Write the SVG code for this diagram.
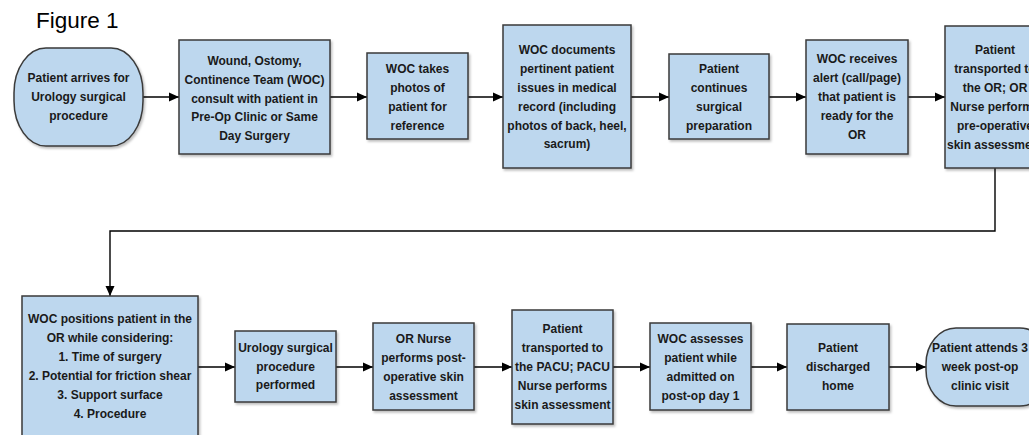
<svg xmlns="http://www.w3.org/2000/svg" width="1029" height="435" viewBox="0 0 1029 435">
  <defs>
    <filter id="sh" x="-10%" y="-10%" width="130%" height="130%">
      <feDropShadow dx="1.5" dy="2" stdDeviation="1.2" flood-color="#000" flood-opacity="0.25"/>
    </filter>
    <marker id="ah" viewBox="0 0 10 10" refX="10" refY="5" markerWidth="10" markerHeight="10" markerUnits="userSpaceOnUse" orient="auto">
      <path d="M0,0.5 L10,5 L0,9.5 Z" fill="#000"/>
    </marker>
  </defs>
  <style>
    .box { fill: #BDD7EE; stroke: #3a3a3a; stroke-width: 1.5; filter: url(#sh); }
    .t { font-family: "Liberation Sans", Arial, sans-serif; font-weight: bold; font-size: 12px; fill: #1a1a1a; text-anchor: middle; }
    .c { fill: none; stroke: #000; stroke-width: 1.4; marker-end: url(#ah); }
    .title { font-family: "Liberation Sans", Arial, sans-serif; font-size: 22.5px; fill: #000; }
  </style>
  <rect width="1029" height="435" fill="#fff"/>
  <text class="title" x="36" y="28">Figure 1</text>

  <g id="connectors">
    <path class="c" d="M143,97 H179"/>
    <path class="c" d="M330,97 H367"/>
    <path class="c" d="M468,97 H503"/>
    <path class="c" d="M631,97 H669"/>
    <path class="c" d="M769,97 H806"/>
    <path class="c" d="M908,97 H945"/>
    <path class="c" d="M995,168 V231 H110 V296"/>
    <path class="c" d="M198,367 H235"/>
    <path class="c" d="M336,367 H373"/>
    <path class="c" d="M474,367 H512"/>
    <path class="c" d="M613,367 H650"/>
    <path class="c" d="M751,367 H787"/>
    <path class="c" d="M889,367 H926"/>
  </g>

  <g id="n1">
    <rect class="box" x="14" y="48" width="129" height="98" rx="32" ry="45"/>
    <text class="t" x="78.5"><tspan x="78.5" y="82">Patient arrives for</tspan><tspan x="78.5" y="101">Urology surgical</tspan><tspan x="78.5" y="120">procedure</tspan></text>
  </g>
  <g id="n2">
    <rect class="box" x="179" y="40" width="151" height="114"/>
    <text class="t"><tspan x="254.5" y="65">Wound, Ostomy,</tspan><tspan x="254.5" y="84">Continence Team (WOC)</tspan><tspan x="254.5" y="103">consult with patient in</tspan><tspan x="254.5" y="121">Pre-Op Clinic or Same</tspan><tspan x="254.5" y="140">Day Surgery</tspan></text>
  </g>
  <g id="n3">
    <rect class="box" x="367" y="53" width="101" height="86"/>
    <text class="t"><tspan x="417.5" y="73">WOC takes</tspan><tspan x="417.5" y="92">photos of</tspan><tspan x="417.5" y="111">patient for</tspan><tspan x="417.5" y="130">reference</tspan></text>
  </g>
  <g id="n4">
    <rect class="box" x="503" y="25" width="128" height="143"/>
    <text class="t"><tspan x="567" y="54">WOC documents</tspan><tspan x="567" y="73">pertinent patient</tspan><tspan x="567" y="92">issues in medical</tspan><tspan x="567" y="111">record (including</tspan><tspan x="567" y="130">photos of back, heel,</tspan><tspan x="567" y="148">sacrum)</tspan></text>
  </g>
  <g id="n5">
    <rect class="box" x="669" y="54" width="100" height="85"/>
    <text class="t"><tspan x="719" y="73">Patient</tspan><tspan x="719" y="92">continues</tspan><tspan x="719" y="111">surgical</tspan><tspan x="719" y="130">preparation</tspan></text>
  </g>
  <g id="n6">
    <rect class="box" x="806" y="40" width="102" height="114"/>
    <text class="t"><tspan x="857" y="63">WOC receives</tspan><tspan x="857" y="82">alert (call/page)</tspan><tspan x="857" y="101">that patient is</tspan><tspan x="857" y="120">ready for the</tspan><tspan x="857" y="139">OR</tspan></text>
  </g>
  <g id="n7">
    <rect class="box" x="945" y="26" width="100" height="142"/>
    <text class="t"><tspan x="995" y="54">Patient</tspan><tspan x="995" y="73">transported to</tspan><tspan x="995" y="92">the OR; OR</tspan><tspan x="995" y="111">Nurse performs</tspan><tspan x="995" y="130">pre-operative</tspan><tspan x="995" y="149">skin assessment</tspan></text>
  </g>
  <g id="n8">
    <rect class="box" x="22" y="296" width="176" height="150"/>
    <text class="t"><tspan x="110" y="323">WOC positions patient in the</tspan><tspan x="110" y="342">OR while considering:</tspan><tspan x="110" y="361">1. Time of surgery</tspan><tspan x="110" y="380">2. Potential for friction shear</tspan><tspan x="110" y="399">3. Support surface</tspan><tspan x="110" y="418">4. Procedure</tspan></text>
  </g>
  <g id="n9">
    <rect class="box" x="235" y="331" width="101" height="71"/>
    <text class="t"><tspan x="285.5" y="352">Urology surgical</tspan><tspan x="285.5" y="371">procedure</tspan><tspan x="285.5" y="389">performed</tspan></text>
  </g>
  <g id="n10">
    <rect class="box" x="373" y="323" width="101" height="87"/>
    <text class="t"><tspan x="423.5" y="343">OR Nurse</tspan><tspan x="423.5" y="362">performs post-</tspan><tspan x="423.5" y="381">operative skin</tspan><tspan x="423.5" y="400">assessment</tspan></text>
  </g>
  <g id="n11">
    <rect class="box" x="512" y="310" width="101" height="114"/>
    <text class="t"><tspan x="562.5" y="333">Patient</tspan><tspan x="562.5" y="352">transported to</tspan><tspan x="562.5" y="371">the PACU; PACU</tspan><tspan x="562.5" y="390">Nurse performs</tspan><tspan x="562.5" y="409">skin assessment</tspan></text>
  </g>
  <g id="n12">
    <rect class="box" x="650" y="323" width="101" height="87"/>
    <text class="t"><tspan x="700.5" y="343">WOC assesses</tspan><tspan x="700.5" y="362">patient while</tspan><tspan x="700.5" y="381">admitted on</tspan><tspan x="700.5" y="400">post-op day 1</tspan></text>
  </g>
  <g id="n13">
    <rect class="box" x="787" y="324" width="102" height="86"/>
    <text class="t"><tspan x="838" y="352">Patient</tspan><tspan x="838" y="371">discharged</tspan><tspan x="838" y="390">home</tspan></text>
  </g>
  <g id="n14">
    <rect class="box" x="926" y="328" width="124" height="78" rx="30" ry="36"/>
    <text class="t"><tspan x="980" y="352">Patient attends 3</tspan><tspan x="980" y="371">week post-op</tspan><tspan x="980" y="390">clinic visit</tspan></text>
  </g>
</svg>
